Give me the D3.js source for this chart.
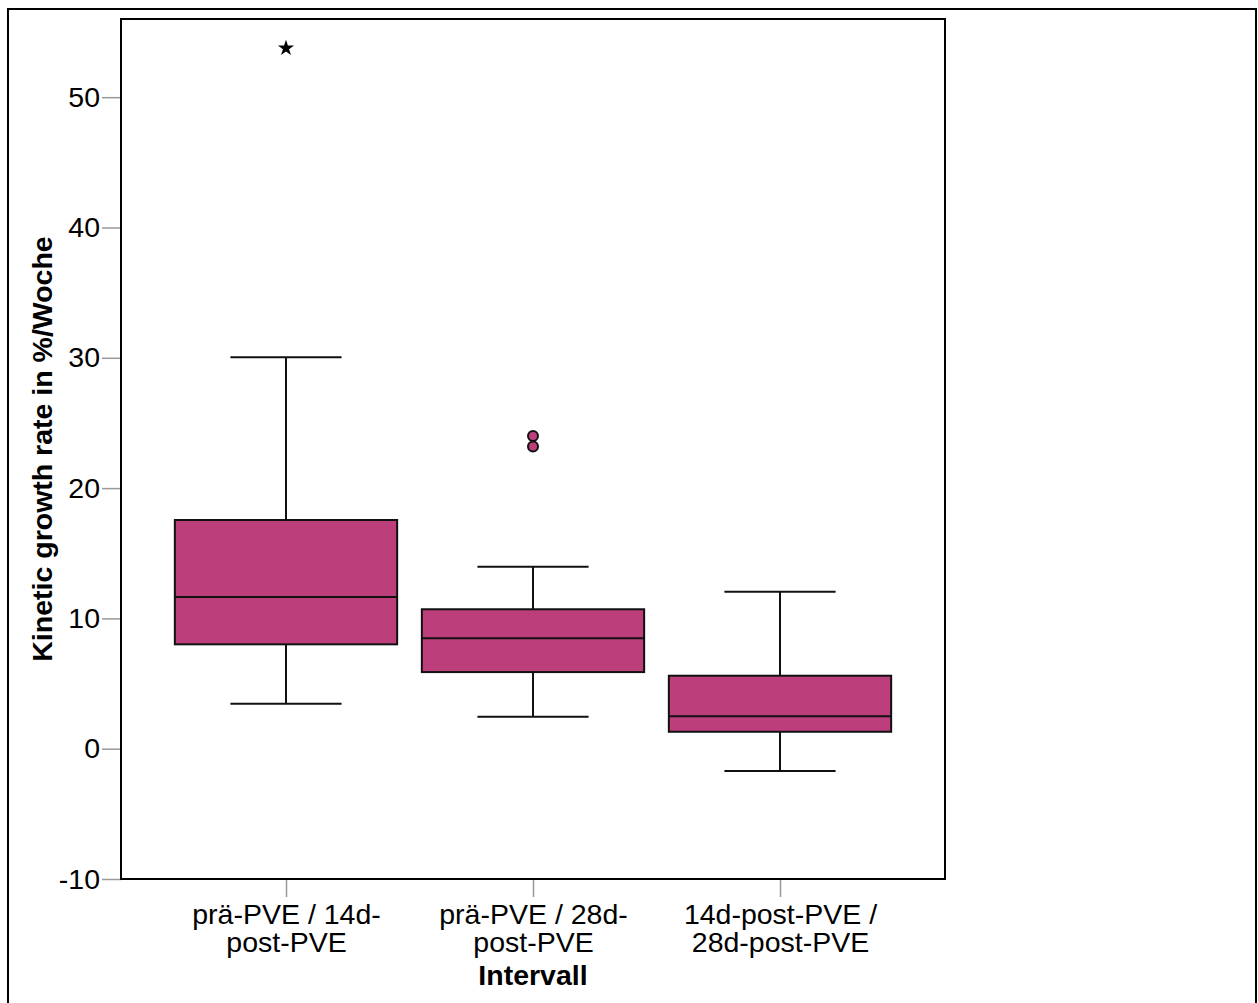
<!DOCTYPE html>
<html>
<head>
<meta charset="utf-8">
<script src="https://cdn.jsdelivr.net/npm/d3@7"></script>
<style>
  html, body { margin: 0; padding: 0; background: #fff; }
  svg { display: block; font-family: "Liberation Sans", Arial, sans-serif; }
</style>
</head>
<body>
<svg id="chart" width="1258" height="1003"></svg>
<script>
// ---- data ----
const categories = ["prä-PVE / 14d-post-PVE", "prä-PVE / 28d-post-PVE", "14d-post-PVE / 28d-post-PVE"];
const categoryLines = [["prä-PVE / 14d-", "post-PVE"], ["prä-PVE / 28d-", "post-PVE"], ["14d-post-PVE /", "28d-post-PVE"]];
const whiskerLow = [3.45, 2.46, -1.71];
const q1 = [8.01, 5.88, 1.30];
const median = [11.64, 8.47, 2.49];
const q3 = [17.55, 10.70, 5.60];
const whiskerHigh = [30.05, 13.97, 12.05];
const outliers = [[], [23.2, 24.0], []];        // circles
const extremes = [[53.76], [], []];             // asterisks
const yTicks = [-10, 0, 10, 20, 30, 40, 50];
const yTitle = "Kinetic growth rate in %/Woche";
const xTitle = "Intervall";

// ---- layout ----
const svg = d3.select("#chart");
const pLeft = 121, pRight = 945, pTop = 19, pBottom = 879;
const boxColor = "#BC3F7B";
const fs = 28.5;

const x = d3.scalePoint().domain(categories).range([pLeft, pRight]).padding(0.668);
const y = d3.scaleLinear().domain([-10, 56]).range([pBottom, pTop]);
const boxW = x.step() * 0.9;
const capW = boxW / 2;

// outer frame
svg.append("rect").attr("x", 8).attr("y", 9).attr("width", 1248).attr("height", 1010)
  .attr("fill", "none").attr("stroke", "#000").attr("stroke-width", 2);

// axes
const yAxis = svg.append("g").attr("transform", `translate(${pLeft},0)`)
  .call(d3.axisLeft(y).tickValues(yTicks).tickSize(19).tickPadding(2).tickFormat(d => String(d)));
yAxis.select(".domain").remove();
yAxis.selectAll(".tick line").attr("stroke", "#999").attr("stroke-width", 1.5);
yAxis.selectAll(".tick text").attr("font-size", fs).attr("fill", "#000")
  .attr("font-family", "Liberation Sans, Arial, sans-serif");

const xAxis = svg.append("g").attr("transform", `translate(0,${pBottom})`)
  .call(d3.axisBottom(x).tickSize(18).tickFormat(""));
xAxis.select(".domain").remove();
xAxis.selectAll(".tick line").attr("stroke", "#999").attr("stroke-width", 1.5);
xAxis.selectAll(".tick").each(function(d, i) {
  const t = d3.select(this).append("text")
    .attr("fill", "#000").attr("font-size", fs).attr("text-anchor", "middle")
    .attr("font-family", "Liberation Sans, Arial, sans-serif");
  categoryLines[i].forEach((ln, j) => {
    t.append("tspan").attr("x", 0).attr("y", 45 + j * 28).text(ln);
  });
});

// plot frame
svg.append("rect").attr("x", pLeft).attr("y", pTop).attr("width", pRight - pLeft).attr("height", pBottom - pTop)
  .attr("fill", "none").attr("stroke", "#000").attr("stroke-width", 2);

// boxes
const g = svg.append("g");
categories.forEach((c, i) => {
  const cx = x(c);
  const gg = g.append("g").attr("stroke", "#111").attr("stroke-width", 2);
  gg.append("line").attr("x1", cx).attr("x2", cx).attr("y1", y(q3[i])).attr("y2", y(whiskerHigh[i]));
  gg.append("line").attr("x1", cx).attr("x2", cx).attr("y1", y(q1[i])).attr("y2", y(whiskerLow[i]));
  gg.append("line").attr("x1", cx - capW / 2).attr("x2", cx + capW / 2).attr("y1", y(whiskerHigh[i])).attr("y2", y(whiskerHigh[i]));
  gg.append("line").attr("x1", cx - capW / 2).attr("x2", cx + capW / 2).attr("y1", y(whiskerLow[i])).attr("y2", y(whiskerLow[i]));
  gg.append("rect").attr("x", cx - boxW / 2).attr("y", y(q3[i]))
    .attr("width", boxW).attr("height", y(q1[i]) - y(q3[i])).attr("fill", boxColor);
  gg.append("line").attr("x1", cx - boxW / 2).attr("x2", cx + boxW / 2).attr("y1", y(median[i])).attr("y2", y(median[i]));
  outliers[i].forEach(v => {
    gg.append("circle").attr("cx", cx).attr("cy", y(v)).attr("r", 5).attr("fill", boxColor).attr("stroke-width", 2);
  });
  extremes[i].forEach(v => {
    g.append("path").attr("d", d3.symbol().type(d3.symbolStar).size(80)())
      .attr("transform", `translate(${cx},${y(v)})`).attr("fill", "#000");
  });
});

// titles
svg.append("text").attr("transform", `translate(52,${(pTop + pBottom) / 2}) rotate(-90)`)
  .attr("text-anchor", "middle").attr("font-size", fs).attr("font-weight", "bold").text(yTitle);
svg.append("text").attr("x", x(categories[1])).attr("y", 985)
  .attr("text-anchor", "middle").attr("font-size", fs).attr("font-weight", "bold").text(xTitle);
</script>
</body>
</html>
